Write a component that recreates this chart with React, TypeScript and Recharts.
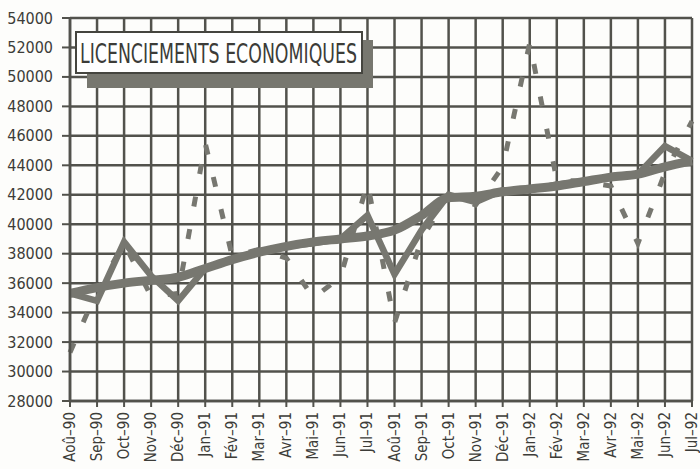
import React from "react";
import { LineChart, Line, XAxis, YAxis, CartesianGrid } from "recharts";

const months = [
  "Aoû–90", "Sep–90", "Oct–90", "Nov–90", "Déc–90", "Jan–91", "Fév–91", "Mar–91",
  "Avr–91", "Mai–91", "Jun–91", "Jul–91", "Aoû–91", "Sep–91", "Oct–91", "Nov–91",
  "Déc–91", "Jan–92", "Fév–92", "Mar–92", "Avr–92", "Mai–92", "Jun–92", "Jul–92",
];

const brut = [
  31300, 35500, 38700, 35100, 35300, 45500, 37800, 38300,
  37700, 35000, 36400, 42800, 33300, 39000, 42000, 41300,
  43900, 52300, 43000, 42900, 42600, 38700, 43500, 47000,
];

const cvs = [
  35300, 34800, 38800, 36500, 34800, 37000, 37600, 38100,
  38500, 38700, 39000, 40600, 36600, 39600, 42000, 41500,
  42300, 42300, 42700, 42900, 43200, 43400, 45300, 44300,
];

const tendance = [
  35300, 35700, 36000, 36200, 36400, 37000, 37600, 38100,
  38500, 38800, 39000, 39200, 39600, 40600, 41800, 41900,
  42200, 42400, 42600, 42900, 43200, 43400, 43900, 44300,
];

const yTicks = [28000, 30000, 32000, 34000, 36000, 38000, 40000, 42000, 44000, 46000, 48000, 50000, 52000, 54000];

const titleText = "LICENCIEMENTS ECONOMIQUES";

const data = months.map((m, i) => ({ m, brut: brut[i], cvs: cvs[i], tendance: tendance[i] }));

const FONT = "'DejaVu Sans Condensed', 'DejaVu Sans', sans-serif";
const INK = "#3c3c38";
const GRID = "#52524c";
const LINE = "#777770";

const XTick = (props: any) => {
  const { x, y, payload } = props;
  return (
    <text
      x={x}
      y={y}
      transform={`rotate(-90 ${x} ${y})`}
      textAnchor="end"
      dominantBaseline="central"
      fontFamily={FONT}
      fontStretch="condensed"
      fontSize={15}
      fill={INK}
    >
      {payload.value}
    </text>
  );
};

const YTick = (props: any) => {
  const { x, y, payload } = props;
  return (
    <text
      x={x}
      y={y}
      textAnchor="end"
      dominantBaseline="central"
      fontFamily={FONT}
      fontStretch="condensed"
      fontSize={16}
      fill={INK}
    >
      {payload.value}
    </text>
  );
};

export default function App() {
  return (
    <div style={{ position: "absolute", left: 0, top: 0, width: 700, height: 469, background: "#fdfdfb" }}>
      <LineChart width={700} height={469} data={data} margin={{ top: 18, right: 8, bottom: 0, left: 0 }}>
        <CartesianGrid stroke={GRID} strokeWidth={2.5} strokeOpacity={1} />
        <XAxis
          dataKey="m"
          scale="point"
          interval={0}
          height={68}
          tick={<XTick />}
          tickSize={6}
          tickMargin={5}
          axisLine={{ stroke: GRID, strokeWidth: 2.5 }}
          tickLine={{ stroke: GRID, strokeWidth: 2 }}
        />
        <YAxis
          domain={[28000, 54000]}
          ticks={yTicks}
          interval={0}
          width={70}
          tick={<YTick />}
          tickSize={8}
          tickMargin={9}
          axisLine={{ stroke: GRID, strokeWidth: 2.5 }}
          tickLine={{ stroke: GRID, strokeWidth: 2 }}
        />
        <Line
          dataKey="brut"
          type="linear"
          stroke={LINE}
          strokeWidth={5}
          strokeDasharray="10 23"
          dot={false}
          isAnimationActive={false}
        />
        <Line
          dataKey="cvs"
          type="linear"
          stroke={LINE}
          strokeWidth={6.5}
          strokeLinejoin="miter"
          dot={false}
          isAnimationActive={false}
        />
        <Line
          dataKey="tendance"
          type="monotone"
          stroke={LINE}
          strokeWidth={9}
          dot={false}
          isAnimationActive={false}
        />
      </LineChart>
      <svg width={700} height={469} style={{ position: "absolute", left: 0, top: 0, pointerEvents: "none" }}>
        <rect x={87} y={40} width={286} height={48} fill="#77776f" />
        <rect x={76} y={32} width={286} height={41} fill="#ffffff" stroke="#45453f" strokeWidth={2} />
        <text
          x={80}
          y={54}
          dominantBaseline="central"
          textLength={277}
          lengthAdjust="spacingAndGlyphs"
          fontFamily={FONT}
          fontStretch="condensed"
          fontSize={26}
          fill={INK}
        >
          {titleText}
        </text>
      </svg>
    </div>
  );
}
